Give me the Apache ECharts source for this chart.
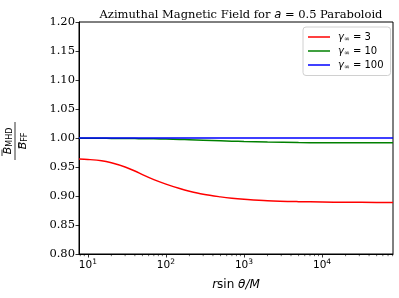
<!DOCTYPE html>
<html>
<head>
<meta charset="utf-8">
<script src="https://cdn.jsdelivr.net/npm/echarts@6/dist/echarts.min.js"></script>
<style>
html,body{margin:0;padding:0;background:#fff;}
#c{width:399px;height:298px;}
</style>
</head>
<body>
<div id="c"></div>
<script>
// ---- data ----
var rValues = [7.7, 10, 15, 20, 30, 40, 50, 70, 100, 150, 200, 300, 500, 700, 1000, 2000, 5000, 10000, 20000, 50000, 81000];
var gammaValues = [3, 10, 100];
var ratioGamma3 = [0.9637, 0.9630, 0.9608, 0.9572, 0.9500, 0.9432, 0.9368, 0.9282, 0.9205, 0.9128, 0.9082, 0.9030, 0.8985, 0.8962, 0.8945, 0.8920, 0.8903, 0.8896, 0.8892, 0.8890, 0.8890];
var ratioGamma10 = [0.9995, 0.9995, 0.9994, 0.9993, 0.9991, 0.9990, 0.9988, 0.9985, 0.9981, 0.9975, 0.9970, 0.9962, 0.9952, 0.9946, 0.9940, 0.9930, 0.9922, 0.9919, 0.9917, 0.9916, 0.9916];
var ratioGamma100 = [1.0000, 1.0000, 1.0000, 1.0000, 1.0000, 1.0000, 1.0000, 1.0000, 1.0000, 1.0000, 1.0000, 1.0000, 1.0000, 1.0000, 1.0000, 1.0000, 1.0000, 1.0000, 1.0000, 1.0000, 1.0000];
var yTicks = [0.80, 0.85, 0.90, 0.95, 1.00, 1.05, 1.10, 1.15, 1.20];
var xMajorTicks = [10, 100, 1000, 10000];
var xMinorTicks = [8, 9, 20, 30, 40, 50, 60, 70, 80, 90, 200, 300, 400, 500, 600, 700, 800, 900,
  2000, 3000, 4000, 5000, 6000, 7000, 8000, 9000, 20000, 30000, 40000, 50000, 60000, 70000, 80000];
var seriesColors = ['#ff0000', '#008000', '#0000ff'];

var allRatios = [ratioGamma3, ratioGamma10, ratioGamma100];
function pairs(ys) { return rValues.map(function (r, i) { return [r, ys[i]]; }); }
var names = gammaValues.map(function (g) { return 'g' + g; });

var chart = echarts.init(document.getElementById('c'), null, {renderer: 'canvas'});
var serif = '"DejaVu Serif", serif';
var sans = '"DejaVu Sans", sans-serif';

var series = gammaValues.map(function (g, i) {
  return {
    name: names[i], type: 'line',
    data: pairs(allRatios[i]), showSymbol: false, symbol: 'none', smooth: 0.35,
    lineStyle: {color: seriesColors[i], width: 1.5}, itemStyle: {color: seriesColors[i]},
    animation: false, z: 3 + i
  };
});
// minor ticks of the log axis, positioned through the axis scale
series.push({
  type: 'custom', name: 'minorTicks', silent: true, clip: false, animation: false, z: 10,
  data: xMinorTicks.map(function (v) { return [v, yTicks[0]]; }),
  renderItem: function (params, api) {
    var p = api.coord([api.value(0), api.value(1)]);
    return {type: 'line', shape: {x1: p[0], y1: p[1], x2: p[0], y2: p[1] + 2.2},
      style: {stroke: '#000', lineWidth: 0.6}};
  }
});

var option = {
  animation: false,
  backgroundColor: '#fff',
  title: {
    text: '{t|Azimuthal Magnetic Field for }{i|a}{t| = 0.5 Paraboloid}',
    left: 236, top: 4, textAlign: 'center',
    textStyle: {fontWeight: 'normal', rich: {
      t: {fontFamily: serif, fontSize: 11.5, fontWeight: 'normal', color: '#000'},
      i: {fontFamily: sans, fontStyle: 'italic', fontSize: 11.5, fontWeight: 'normal', color: '#000'}
    }}
  },
  grid: {left: 79, right: 6, top: 22, bottom: 44, show: true, borderColor: '#000', borderWidth: 1, backgroundColor: 'transparent'},
  legend: {
    orient: 'vertical', left: 303, top: 27, width: 84,
    padding: [5, 7, 5, 5], itemGap: 3.5, itemWidth: 22, itemHeight: 1.5,
    icon: 'rect',
    backgroundColor: '#fff', borderColor: '#d0d0d0', borderWidth: 1, borderRadius: 3,
    data: names,
    formatter: function (n) {
      var g = n.slice(1);
      return '{g|γ}{s|∞}{t| = ' + g + '}';
    },
    textStyle: {padding: [0, 0, 0, 3], rich: {
      g: {fontFamily: sans, fontStyle: 'italic', fontSize: 10, color: '#000'},
      s: {fontFamily: sans, fontSize: 7, color: '#000', verticalAlign: 'bottom', padding: [4, 0, 0, 0]},
      t: {fontFamily: sans, fontSize: 10, color: '#000'}
    }}
  },
  xAxis: {
    type: 'log', logBase: 10, min: 7.7, max: 81000,
    position: 'bottom',
    axisLine: {show: true, onZero: false, lineStyle: {color: '#000', width: 1}},
    axisTick: {show: true, inside: false, length: 3.5, lineStyle: {color: '#000', width: 0.8}, customValues: xMajorTicks},
    axisLabel: {
      margin: 4, color: '#000', customValues: xMajorTicks,
      formatter: function (v) {
        var e = Math.round(Math.log10(v));
        if (Math.abs(Math.pow(10, e) - v) > 1e-6 * v) return '';
        return '{b|10}{p|' + e + '}';
      },
      rich: {
        b: {fontFamily: sans, fontSize: 10.5, color: '#000'},
        p: {fontFamily: sans, fontSize: 7.5, color: '#000', verticalAlign: 'top', padding: [0, 0, 6, 0]}
      }
    },
    splitLine: {show: false},
    name: '{i|r}{t|sin }{i|θ/M}', nameLocation: 'middle', nameGap: 25,
    nameTextStyle: {rich: {
      i: {fontFamily: sans, fontStyle: 'italic', fontSize: 12, color: '#000'},
      t: {fontFamily: sans, fontSize: 12, color: '#000'}
    }}
  },
  yAxis: {
    type: 'value', min: 0.8, max: 1.2, interval: 0.05,
    axisLine: {show: true, onZero: false, lineStyle: {color: '#000', width: 1}},
    axisTick: {show: true, inside: false, length: 3.5, lineStyle: {color: '#000', width: 0.8}},
    axisLabel: {margin: 4, color: '#000', fontFamily: serif, fontSize: 11.5,
      formatter: function (v) { return v.toFixed(2); }},
    splitLine: {show: false}
  },
  graphic: [{
    type: 'group', x: 15, y: 141, rotation: Math.PI / 2,
    children: [
      {type: 'text', x: 0, y: -1.5, style: {
        text: '{b|B}{s|MHD}', align: 'center', verticalAlign: 'bottom',
        rich: {
          b: {fontFamily: sans, fontStyle: 'italic', fontSize: 11, fill: '#000'},
          s: {fontFamily: sans, fontSize: 8, fill: '#000', verticalAlign: 'bottom'}
        }
      }},
      {type: 'line', shape: {x1: -15, y1: -13, x2: -8.5, y2: -13}, style: {stroke: '#000', lineWidth: 0.8}},
      {type: 'line', shape: {x1: -19, y1: 0, x2: 19, y2: 0}, style: {stroke: '#000', lineWidth: 0.8}},
      {type: 'text', x: 0, y: 2.5, style: {
        text: '{b|B}{s|FF}', align: 'center', verticalAlign: 'top',
        rich: {
          b: {fontFamily: sans, fontStyle: 'italic', fontSize: 11, fill: '#000'},
          s: {fontFamily: sans, fontSize: 8, fill: '#000', verticalAlign: 'bottom'}
        }
      }},
      {type: 'line', shape: {x1: -7.5, y1: 4, x2: -1, y2: 4}, style: {stroke: '#000', lineWidth: 0.8}}
    ]
  }],
  series: series
};
chart.setOption(option);
</script>
</body>
</html>
